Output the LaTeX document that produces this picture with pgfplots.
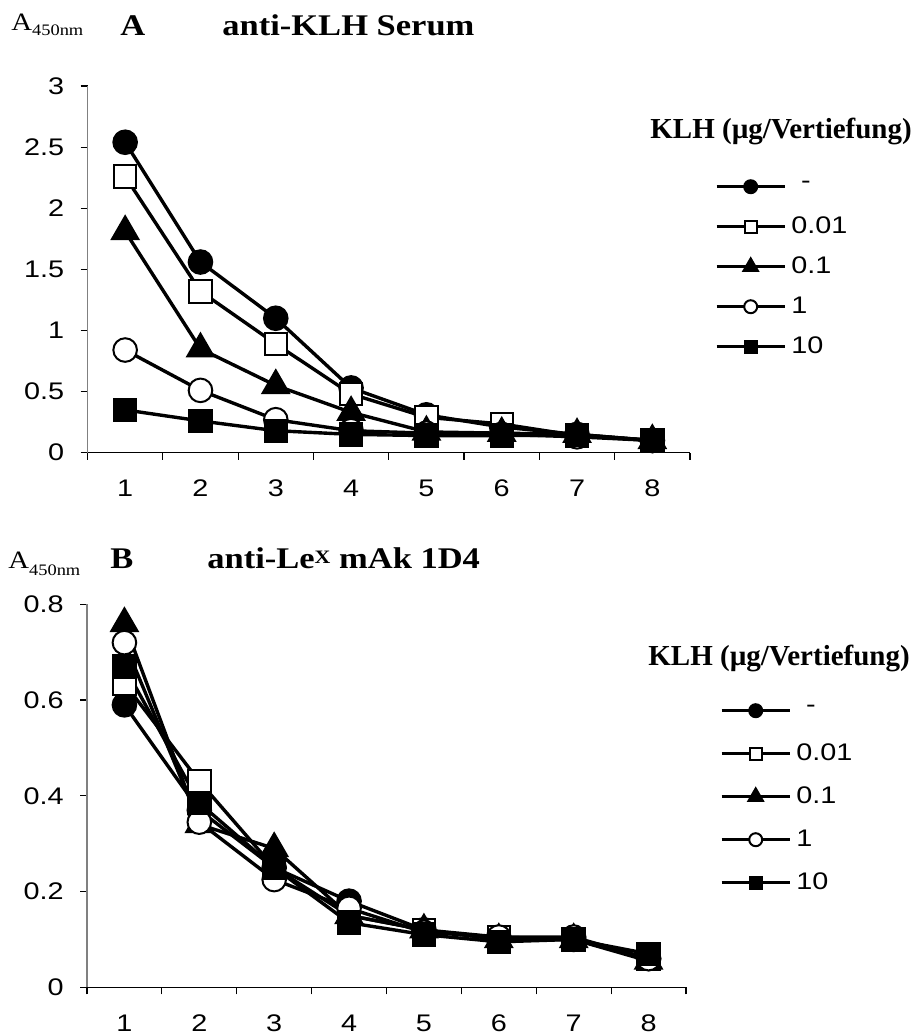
\documentclass[border=0pt]{standalone}
\usepackage{fontspec}
\setmainfont{Liberation Serif}
\newfontfamily\arial{Liberation Sans}
\usepackage{graphicx}
\usepackage{pgfplots}
\usepackage{pgfplotstable}
\pgfplotsset{compat=1.18}
\newcommand{\sx}[1]{\scalebox{1.15}[1]{#1}}
\newcommand{\sxs}[1]{\scalebox{1.2}[1]{#1}}

\pgfplotstableread{
x c s t o q
1 2.54 2.26 1.81 0.84 0.35
2 1.56 1.32 0.85 0.51 0.26
3 1.10 0.89 0.55 0.27 0.18
4 0.53 0.48 0.33 0.18 0.15
5 0.31 0.29 0.17 0.16 0.14
6 0.21 0.235 0.16 0.15 0.14
7 0.15 0.14 0.15 0.13 0.145
8 0.10 0.10 0.10 0.10 0.10
}\dataA

\pgfplotstableread{
x c s t o q
1 0.59 0.635 0.76 0.72 0.67
2 0.37 0.43 0.34 0.345 0.385
3 0.25 0.25 0.29 0.225 0.25
4 0.18 0.15 0.15 0.165 0.135
5 0.12 0.12 0.12 0.115 0.11
6 0.10 0.105 0.10 0.105 0.095
7 0.10 0.10 0.10 0.105 0.10
8 0.06 0.06 0.055 0.06 0.07
}\dataB

\pgfplotsset{
  panel/.style={
    scale only axis,
    axis lines=left,
    axis line style={-},
    x axis line style={black, line width=0.6pt},
    y axis line style={gray, line width=0.7pt},
    xmin=0.5, xmax=8.5,
    xtick={0.5,1.5,2.5,3.5,4.5,5.5,6.5,7.5,8.5},
    x tick label as interval,
    xticklabels={\sxs{1},\sxs{2},\sxs{3},\sxs{4},\sxs{5},\sxs{6},\sxs{7},\sxs{8}},
    tick align=outside,
    major tick length=3.5pt,
    tick style={black, line width=0.6pt},
    tick label style={font=\arial\fontsize{12}{14}\selectfont},
    /pgf/number format/assume math mode=true,
    yticklabel={\sxs{\pgfmathprintnumber{\tick}}},
    yticklabel style={anchor=east, inner sep=0pt, xshift=-8pt},
    xticklabel style={anchor=north, inner sep=0pt, yshift=-10pt},
    clip=false,
    legend cell align=left,
    legend image code/.code={
      \path[draw=none, fill=none] (0pt,-10pt) rectangle (34pt,10pt);
      \draw[##1, mark=none] (0pt,0pt) -- (34pt,0pt);
      \draw[##1, /tikz/every mark/.append style={scale=0.55}] plot coordinates {(17pt,0pt)};
    },
  },
  s1/.style={line width=1.7pt, mark=*, mark size=5.9pt, mark options={solid, fill=black, line width=1pt}},
  s2/.style={line width=1.7pt, mark=square*, mark size=5.6pt, mark options={solid, fill=white, line width=1pt}},
  s3/.style={line width=1.7pt, mark=triangle*, mark size=7.6pt, mark options={solid, fill=black, line width=1pt}},
  s4/.style={line width=1.7pt, mark=*, mark size=5.9pt, mark options={solid, fill=white, line width=1pt}},
  s5/.style={line width=1.7pt, mark=square*, mark size=5.6pt, mark options={solid, fill=black, line width=1pt}},
}

\begin{document}
\begin{tikzpicture}
\path[use as bounding box] (0pt,0pt) rectangle (459.5pt,-517.5pt);

% ---------- Panel A ----------
\begin{axis}[panel,
  at={(43.75pt,-226.35pt)}, anchor=south west,
  width=301.25pt, height=183.35pt,
  ymin=0, ymax=3, ytick={0,0.5,1,1.5,2,2.5,3},
  legend style={draw=none, fill=none, at={(1.0415,0.5072)}, anchor=west,
    inner sep=0pt, outer sep=0pt, row sep=0pt, column sep=2.5pt,
    nodes={inner sep=0pt}, font=\arial\fontsize{12}{14}\selectfont},
]
\addplot[s1] table[x=x,y=c]{\dataA};
\addlegendentry{\sxs{\hspace{4pt}-}}
\addplot[s2] table[x=x,y=s]{\dataA};
\addlegendentry{\sxs{0.01}}
\addplot[s3] table[x=x,y=t]{\dataA};
\addlegendentry{\sxs{0.1}}
\addplot[s4] table[x=x,y=o]{\dataA};
\addlegendentry{\sxs{1}}
\addplot[s5] table[x=x,y=q]{\dataA};
\addlegendentry{\sxs{10}}
\end{axis}

% ---------- Panel B ----------
\begin{axis}[panel,
  at={(43.5pt,-493.65pt)}, anchor=south west,
  width=299.5pt, height=191.5pt,
  ymin=0, ymax=0.8, ytick={0,0.2,0.4,0.6,0.8},
  legend style={draw=none, fill=none, at={(1.0568,0.4977)}, anchor=west,
    inner sep=0pt, outer sep=0pt, row sep=1.5pt, column sep=2.5pt,
    nodes={inner sep=0pt}, font=\arial\fontsize{12}{14}\selectfont},
]
\addplot[s1] table[x=x,y=c]{\dataB};
\addlegendentry{\sxs{\hspace{4pt}-}}
\addplot[s2] table[x=x,y=s]{\dataB};
\addlegendentry{\sxs{0.01}}
\addplot[s3] table[x=x,y=t]{\dataB};
\addlegendentry{\sxs{0.1}}
\addplot[s4] table[x=x,y=o]{\dataB};
\addlegendentry{\sxs{1}}
\addplot[s5] table[x=x,y=q]{\dataB};
\addlegendentry{\sxs{10}}
\end{axis}

% ---------- Titles ----------
\node[anchor=base west, inner sep=0pt] at (5.5pt,-15pt)
  {\sx{\fontsize{12.5}{14}\selectfont A\raisebox{-2.5pt}{\fontsize{8}{10}\selectfont 450nm}}};
\node[anchor=base west, inner sep=0pt] at (60pt,-17.5pt)
  {\sx{\fontsize{15}{17}\selectfont\bfseries A}};
\node[anchor=base west, inner sep=0pt] at (111pt,-17.5pt)
  {\sx{\fontsize{15}{17}\selectfont\bfseries anti-KLH Serum}};
\node[anchor=base west, inner sep=0pt] at (325pt,-69pt)
  {\fontsize{14.5}{16}\selectfont\bfseries KLH (µg/Vertiefung)};

\node[anchor=base west, inner sep=0pt] at (4pt,-284pt)
  {\sx{\fontsize{12.5}{14}\selectfont A\raisebox{-3.5pt}{\fontsize{8}{10}\selectfont 450nm}}};
\node[anchor=base west, inner sep=0pt] at (55pt,-284pt)
  {\sx{\fontsize{15}{17}\selectfont\bfseries B}};
\node[anchor=base west, inner sep=0pt] at (103.5pt,-284pt)
  {\sx{\fontsize{15}{17}\selectfont\bfseries anti-Le\raisebox{2.5pt}{\fontsize{9.5}{10}\selectfont X} mAk 1D4}};
\node[anchor=base west, inner sep=0pt] at (324pt,-332.5pt)
  {\fontsize{14.5}{16}\selectfont\bfseries KLH (µg/Vertiefung)};
\end{tikzpicture}
\end{document}
